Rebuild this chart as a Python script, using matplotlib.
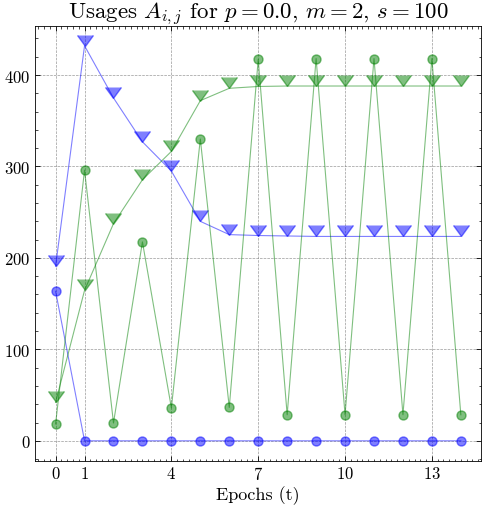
import matplotlib
matplotlib.use("Agg")
import matplotlib.pyplot as plt
from matplotlib.ticker import AutoMinorLocator, MultipleLocator

plt.rcParams.update({
    "font.family": "serif",
    "font.serif": ["cmr10"],
    "mathtext.fontset": "cm",
    "axes.unicode_minus": False,
    "axes.formatter.use_mathtext": True,
    "font.size": 12,
})

epochs = list(range(15))
xticks = [0, 1, 4, 7, 10, 13]

# Blue (i=0)
blue_circles = [163.5, 0, 0, 0, 0, 0, 0, 0, 0, 0, 0, 0, 0, 0, 0]
blue_carets = [191, 432, 375, 327, 295, 240, 225.5, 224.5, 224, 223.5, 223.5, 223.5, 223.5, 223.5, 223.5]

# Green (i=1)
green_circles = [18.5, 296, 19.5, 217.5, 36, 330, 36.5, 417, 28.5, 418, 28.5, 418, 28.5, 418, 28.5]
green_carets = [42, 164.5, 237.5, 285.5, 316.5, 372, 385.5, 387.5, 388, 388, 388, 388, 388, 388, 388]

fig = plt.figure(figsize=(4.84, 5.10), dpi=100)
ax = fig.add_axes([0.073, 0.095, 0.921, 0.852])

ax.plot(epochs, blue_circles, color="b", alpha=0.5, lw=0.8, marker="o", markersize=6.5)
ax.plot(epochs, blue_carets, color="b", alpha=0.5, lw=0.8, marker=7, markersize=11)
ax.plot(epochs, green_circles, color="g", alpha=0.5, lw=0.8, marker="o", markersize=6.5)
ax.plot(epochs, green_carets, color="g", alpha=0.5, lw=0.8, marker=7, markersize=11)

ax.set_xticks(xticks)
ax.xaxis.set_minor_locator(AutoMinorLocator())
ax.yaxis.set_major_locator(MultipleLocator(100))
ax.yaxis.set_minor_locator(AutoMinorLocator(5))
ax.tick_params(which="both", direction="in", top=True, right=True)
ax.tick_params(which="major", length=3.5, width=0.6)
ax.tick_params(which="minor", length=1.8, width=0.5)
for s in ax.spines.values():
    s.set_linewidth(0.6)
ax.grid(True, which="major", linestyle="--", color="gray", linewidth=0.5, alpha=0.8)

ax.set_title(r"Usages $A_{i,j}$ for $p = 0.0$, $m = 2$, $s = 100$", fontsize=16.5, pad=3)
ax.set_xlabel("Epochs (t)", fontsize=13, labelpad=2)

fig.savefig("out.png", dpi=100)
